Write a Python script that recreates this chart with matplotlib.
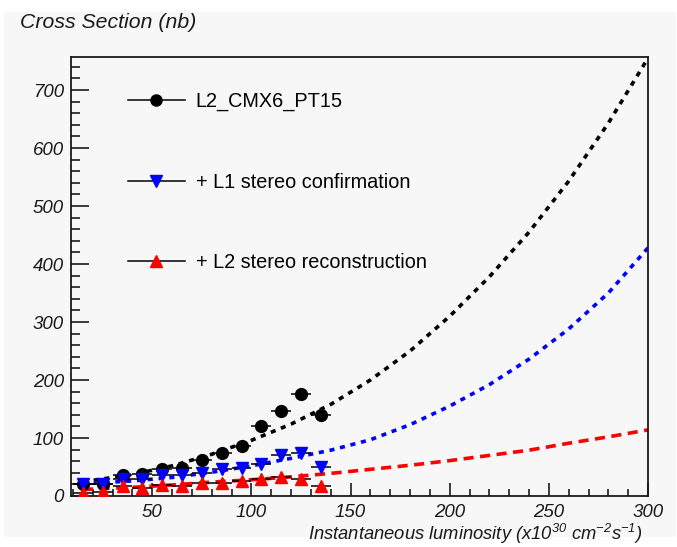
import numpy as np
import matplotlib
matplotlib.use("Agg")
import matplotlib.pyplot as plt
from matplotlib.lines import Line2D
from matplotlib.patches import Rectangle

plt.rcParams['font.family'] = ['Liberation Sans', 'DejaVu Sans']
plt.rcParams['mathtext.fontset'] = 'custom'
plt.rcParams['mathtext.rm'] = 'Liberation Sans:italic'
plt.rcParams['mathtext.it'] = 'Liberation Sans:italic'

# measured cross sections vs luminosity bin centres
lumi = [15, 25, 35, 45, 55, 65, 75, 85, 95, 105, 115, 125, 135]
xs_pt15 = [20, 20, 36, 38, 46, 49, 62, 74, 86, 121, 147, 176, 140]
xs_l1 = [21, 21, 30, 30, 36, 36, 40, 46, 49, 56, 70, 75, 50]
xs_l2 = [6, 7, 17, 13, 19, 17, 23, 22, 26, 29, 33, 30, 17]

# extrapolated curves
fit_x = [15, 20, 40, 60, 80, 100, 120, 140, 160, 180, 200, 220, 240, 260, 280, 300]
fit_pt15 = [25, 27, 37, 52, 72, 96, 124, 158, 200, 250, 310, 378, 455, 543, 643, 755]
fit_l1 = [21, 22, 26, 32, 41, 52, 65, 79, 97, 123, 155, 192, 236, 288, 350, 428]
fit_l2 = [11, 12, 15, 19, 24, 28, 33, 39, 46, 53, 61, 70, 79, 91, 102, 114]

labels = ['L2_CMX6_PT15', '+ L1 stereo confirmation', '+ L2 stereo reconstruction']

bg = '#f7f7f7'
ink = '#1a1a1a'
fig = plt.figure(figsize=(6.77, 5.47), dpi=100, facecolor='white')
fig.patches.append(Rectangle((4/677, 10/547), 672/677, 525/547, transform=fig.transFigure,
                             facecolor=bg, edgecolor='none', zorder=-10))
ax = fig.add_axes([71/677, 51/547, 577/677, 439/547])
ax.set_facecolor(bg)

# fit curves
ax.plot(fit_x, fit_pt15, color='black', lw=2.6, ls=(0, (1.4, 1.6)), zorder=2)
ax.plot(fit_x, fit_l1, color='blue', lw=2.6, ls=(0, (1.4, 1.6)), zorder=2)
ax.plot(fit_x, fit_l2, color='red', lw=2.6, ls=(0, (2.8, 1.8)), zorder=2)

# data points with bin width error bars
for y, mk, col in [(xs_pt15, 'o', 'black'), (xs_l1, 'v', 'blue'), (xs_l2, '^', 'red')]:
    ax.errorbar(lumi, y, xerr=5, fmt=mk, color=col, mfc=col, mec=col, ms=8.5,
                ecolor='black', elinewidth=1.1, capsize=0, zorder=3)

ax.set_xlim(9, 300)
ax.set_ylim(0, 757)
ax.set_xticks([50, 100, 150, 200, 250, 300])
ax.set_xticks(np.arange(10, 301, 10), minor=True)
ax.set_yticks(np.arange(0, 701, 100))
ax.set_yticks(np.arange(0, 751, 20), minor=True)

ax.tick_params(axis='both', which='both', direction='in', top=False, right=False,
               labelsize=13.5, color=ink, width=1.2)
ax.tick_params(axis='y', which='major', length=13, pad=5)
ax.tick_params(axis='y', which='minor', length=6.5)
ax.tick_params(axis='x', which='major', length=9.5, pad=6)
ax.tick_params(axis='x', which='minor', length=5)
for lab in ax.get_xticklabels() + ax.get_yticklabels():
    lab.set_fontstyle('italic')
    lab.set_color(ink)
for sp in ax.spines.values():
    sp.set_linewidth(1.3)
    sp.set_color(ink)

# legend
handles = [Line2D([], [], color='black', lw=1.1, marker='o', mfc='black', mec='black', ms=8),
           Line2D([], [], color='black', lw=1.1, marker='v', mfc='blue', mec='blue', ms=8),
           Line2D([], [], color='black', lw=1.1, marker='^', mfc='red', mec='red', ms=8)]
ax.legend(handles, labels, loc='upper left', bbox_to_anchor=(128/677, 1 - 92/547),
          bbox_transform=fig.transFigure, frameon=False, fontsize=14.3, handlelength=2.85,
          handletextpad=0.55, labelspacing=3.1, borderpad=0, borderaxespad=0)

fig.text(20/677, 1 - 22/547, 'Cross Section (nb)', fontsize=15.3, style='italic',
         ha='left', va='center', color=ink)
fig.text(643/677, 1 - 540/547, r'Instantaneous luminosity (x10$^{30}$ cm$^{-2}$s$^{-1}$)',
         fontsize=13.2, style='italic', ha='right', va='baseline', color=ink)

fig.savefig('out.png', dpi=100, facecolor='white')
